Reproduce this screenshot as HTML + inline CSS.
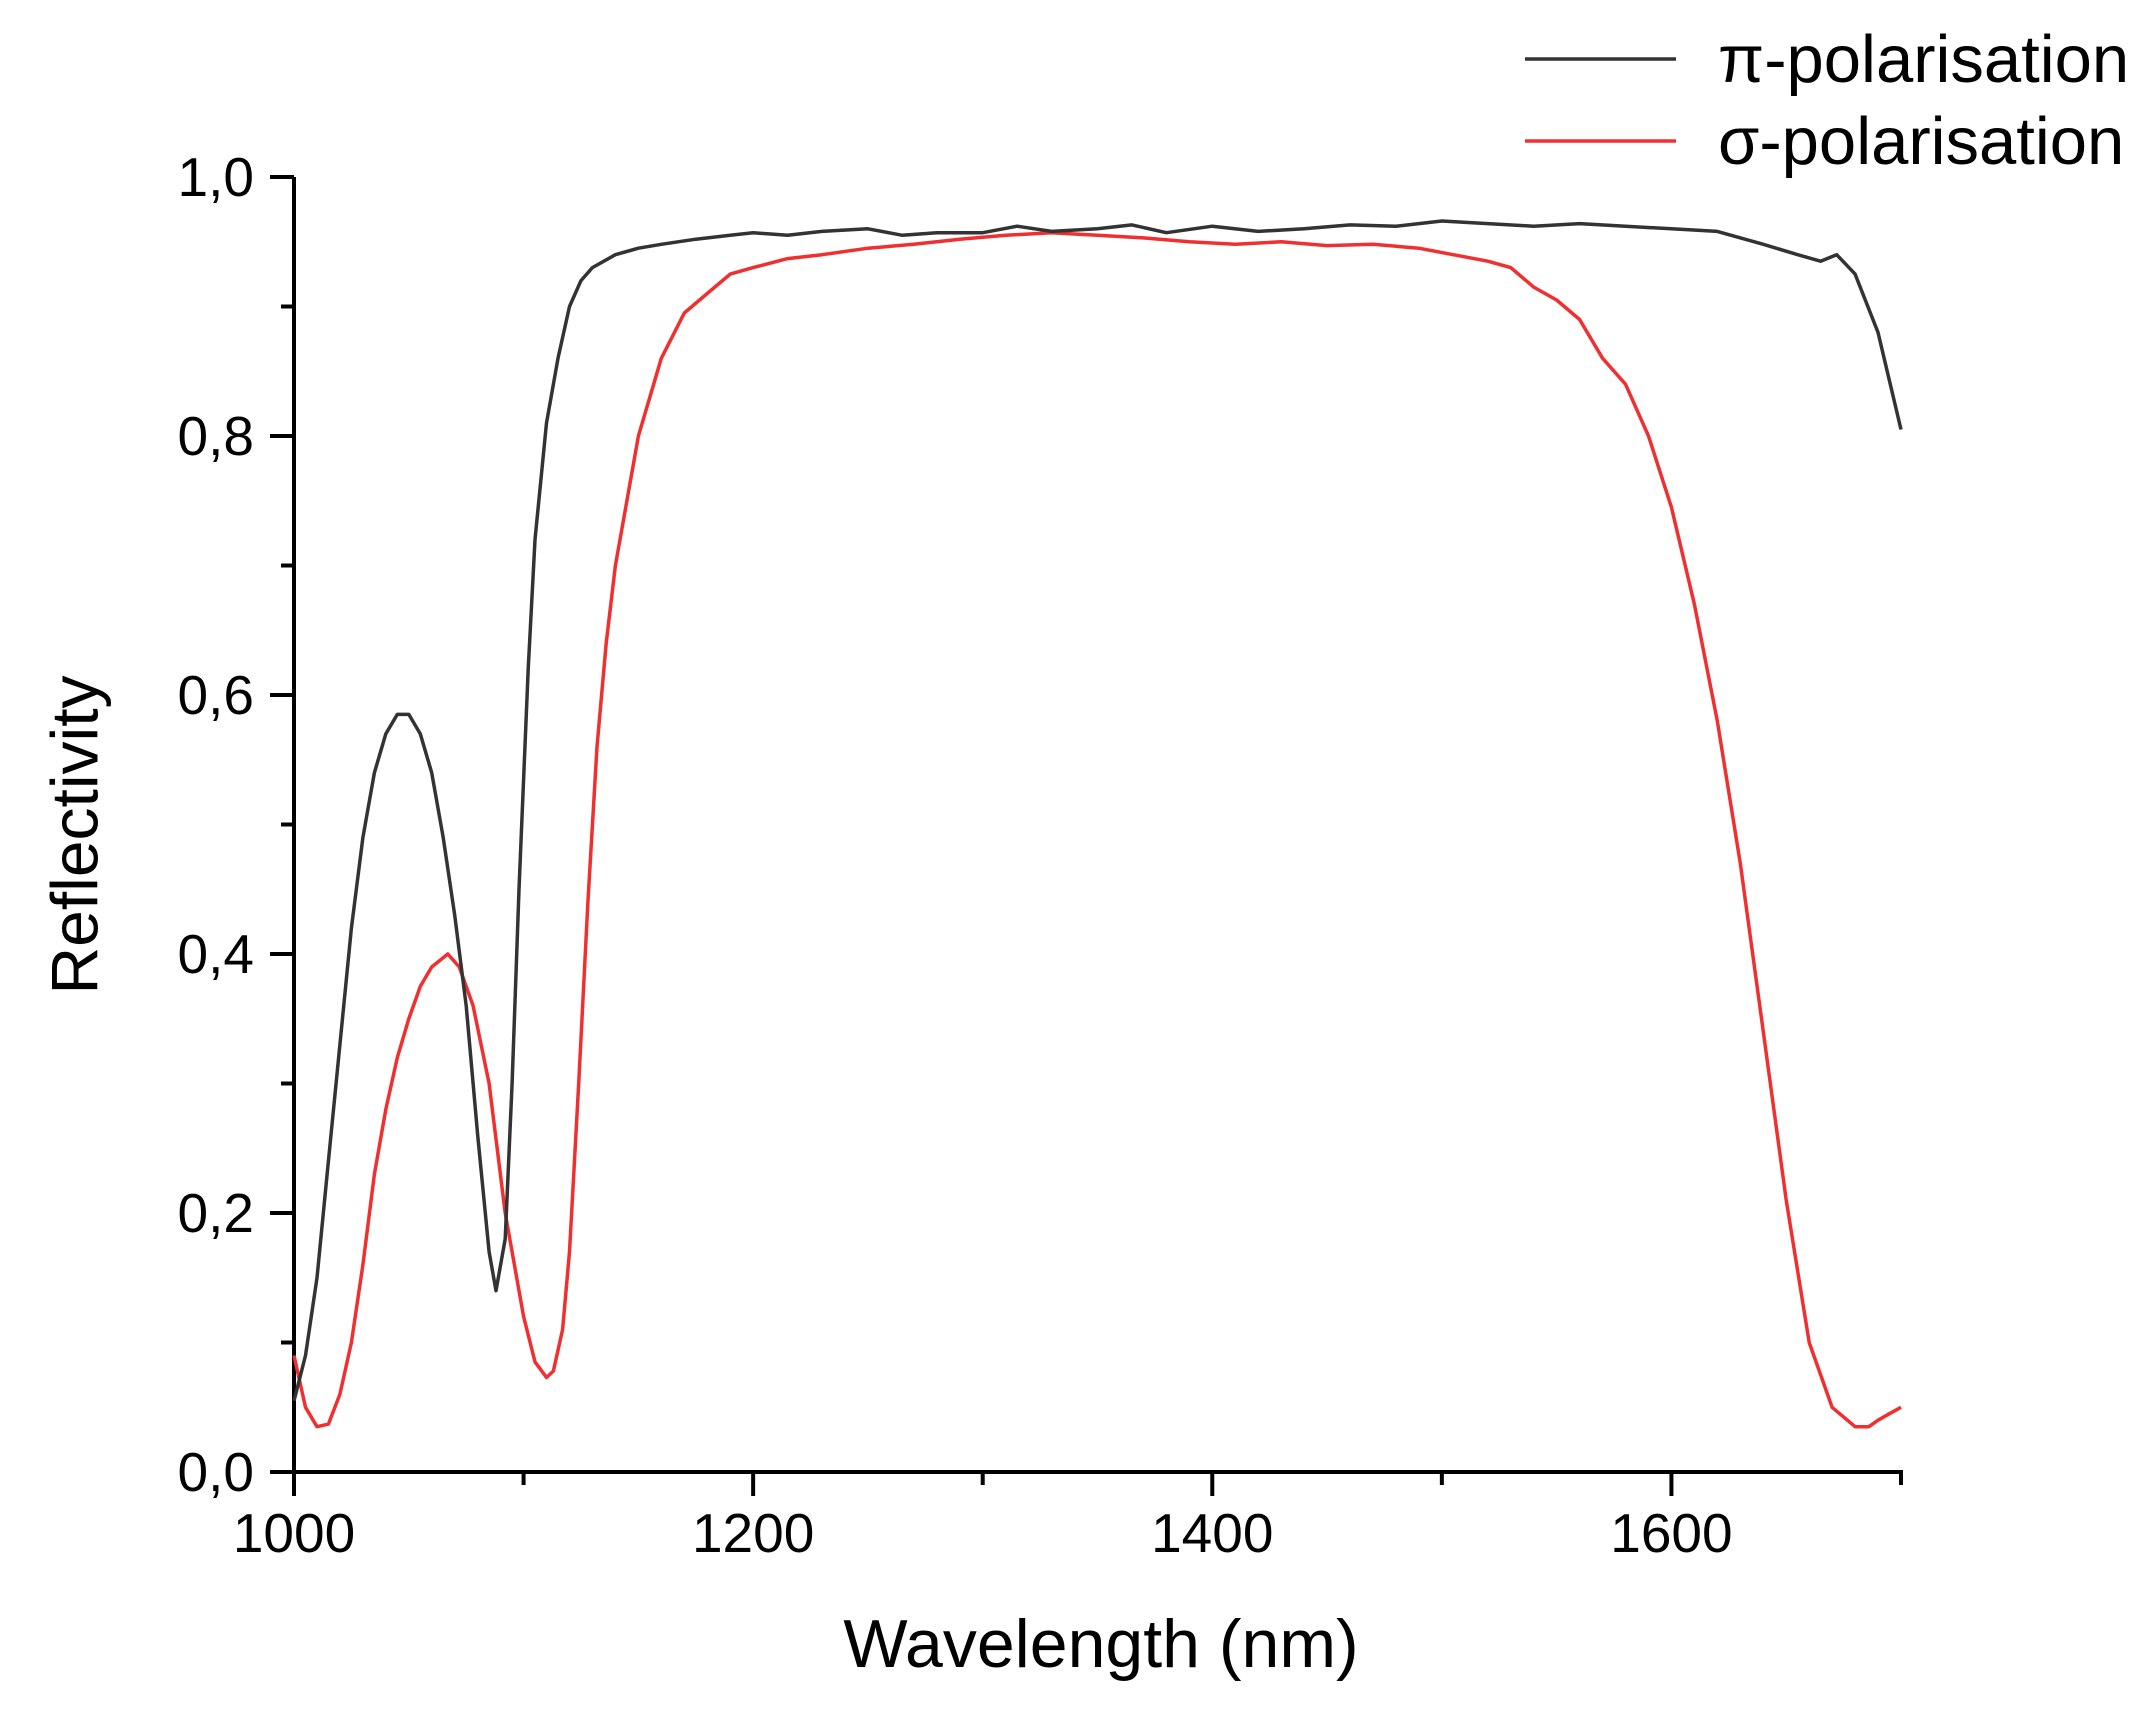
<!DOCTYPE html>
<html><head><meta charset="utf-8"><style>
html,body{margin:0;padding:0;background:#fff;}
svg{display:block;font-family:"Liberation Sans",sans-serif;}
</style></head><body>
<svg id="chart" width="2144" height="1719" viewBox="0 0 2144 1719">
<g id="axes"></g>
<g id="series"></g>
<text x="80" y="835" font-size="66" text-anchor="middle" transform="rotate(-90 80 835)" dominant-baseline="middle">Reflectivity</text>
<text x="1101" y="1667" font-size="68" text-anchor="middle">Wavelength (nm)</text>
<g>
<line x1="1525" y1="59" x2="1676" y2="59" stroke="#333" stroke-width="3.5"/>
<text x="1718" y="82" font-size="67">π-polarisation</text>
<line x1="1525" y1="141" x2="1676" y2="141" stroke="#f03030" stroke-width="3.5"/>
<text x="1718" y="164" font-size="67">σ-polarisation</text>
</g>
</svg>
<script>
const xTicks=[1000,1200,1400,1600];
const yTicks=[0,0.2,0.4,0.6,0.8,1.0];
const yTickLabels=["0,0","0,2","0,4","0,6","0,8","1,0"];
const piX=[1000,1005,1010,1015,1020,1025,1030,1035,1040,1045,1050,1055,1060,1065,1070,1075,1080,1085,1088,1092,1095,1098,1102,1105,1110,1115,1120,1125,1130,1140,1150,1160,1175,1190,1200,1215,1230,1250,1265,1280,1300,1315,1330,1350,1365,1380,1400,1420,1440,1460,1480,1500,1520,1540,1560,1580,1600,1620,1640,1655,1665,1672,1680,1690,1700];
const piY=[0.055,0.09,0.15,0.24,0.33,0.42,0.49,0.54,0.57,0.585,0.585,0.57,0.54,0.49,0.43,0.36,0.26,0.17,0.14,0.18,0.3,0.45,0.62,0.72,0.81,0.86,0.9,0.92,0.93,0.94,0.945,0.948,0.952,0.955,0.957,0.955,0.958,0.96,0.955,0.957,0.957,0.962,0.958,0.96,0.963,0.957,0.962,0.958,0.96,0.963,0.962,0.966,0.964,0.962,0.964,0.962,0.96,0.958,0.948,0.94,0.935,0.94,0.925,0.88,0.805];
const sigX=[1000,1005,1010,1015,1020,1025,1030,1035,1040,1045,1050,1055,1060,1067,1072,1078,1085,1092,1100,1105,1110,1113,1117,1120,1124,1128,1132,1136,1140,1145,1150,1160,1170,1180,1190,1200,1215,1230,1250,1270,1290,1310,1330,1350,1370,1390,1410,1430,1450,1470,1490,1505,1520,1530,1540,1550,1560,1570,1580,1590,1600,1610,1620,1630,1640,1650,1660,1670,1680,1686,1690,1695,1700];
const sigY=[0.09,0.05,0.035,0.037,0.06,0.1,0.16,0.23,0.28,0.32,0.35,0.375,0.39,0.4,0.39,0.36,0.3,0.2,0.12,0.085,0.073,0.078,0.11,0.17,0.3,0.44,0.56,0.64,0.7,0.75,0.8,0.86,0.895,0.91,0.925,0.93,0.937,0.94,0.945,0.948,0.952,0.955,0.957,0.955,0.953,0.95,0.948,0.95,0.947,0.948,0.945,0.94,0.935,0.93,0.915,0.905,0.89,0.86,0.84,0.8,0.745,0.67,0.58,0.47,0.34,0.21,0.1,0.05,0.035,0.035,0.04,0.045,0.05];
const X0=294,X1=1901,Y0=1472,Y1=177;
function sx(v){return X0+(v-1000)/700*(X1-X0);}
function sy(v){return Y0-v*(Y0-Y1);}
const NS="http://www.w3.org/2000/svg";
const axes=document.getElementById('axes');
function mk(tag,attrs,parent){const e=document.createElementNS(NS,tag);for(const k in attrs)e.setAttribute(k,attrs[k]);parent.appendChild(e);return e;}
let l=mk('line',{x1:X0,y1:Y1,x2:X0,y2:Y0+2,stroke:'#000','stroke-width':4},axes);


l=mk('line',{x1:X0-2,y1:Y0,x2:X1+2,y2:Y0,stroke:'#000','stroke-width':4},axes);


for(let v=1000;v<=1700;v+=100){const major=xTicks.includes(v);const len=major?24:13;
 const t=mk('line',{x1:sx(v),y1:Y0,x2:sx(v),y2:Y0+len,stroke:'#000','stroke-width':4},axes);
 
 }
xTicks.forEach(v=>{const t=mk('text',{x:sx(v),y:Y0+80,'font-size':55,'text-anchor':'middle'},axes);t.textContent=v;
 
 });
for(let i=0;i<=10;i++){const v=i/10;const major=i%2===0;const len=major?24:13;
 const t=mk('line',{x1:X0-len,y1:sy(v),x2:X0,y2:sy(v),stroke:'#000','stroke-width':4},axes);
 
 }
yTicks.forEach((v,i)=>{const t=mk('text',{x:X0-40,y:sy(v)+19,'font-size':55,'text-anchor':'end'},axes);t.textContent=yTickLabels[i];
 
 });
const series=document.getElementById('series');
function path(xs,ys){return xs.map((x,i)=>(i?'L':'M')+sx(x).toFixed(1)+','+sy(ys[i]).toFixed(1)).join('');}
let p=mk('path',{d:path(sigX,sigY),fill:'none',stroke:'#f03030','stroke-width':3.5,'stroke-linejoin':'round'},series);


p=mk('path',{d:path(piX,piY),fill:'none',stroke:'#333','stroke-width':3.5,'stroke-linejoin':'round'},series);


</script>
</body></html>
